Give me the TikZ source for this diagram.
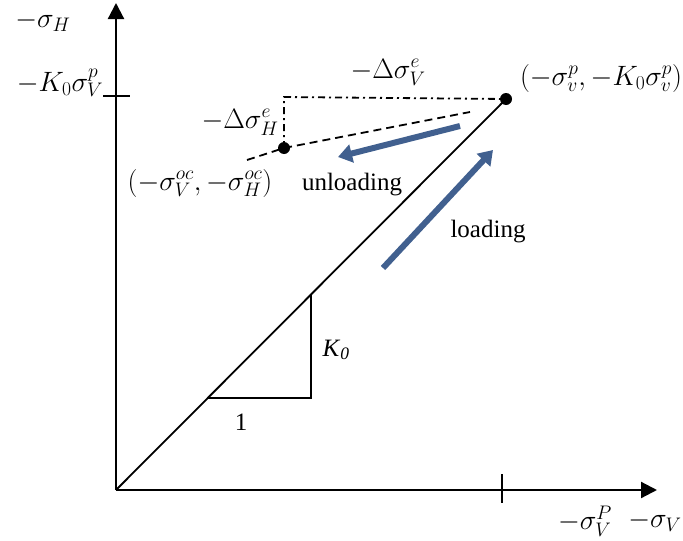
\RequirePackage{fix-cm}
\documentclass[tikz,border=0pt]{standalone}
\usepackage{fontspec}
\setmainfont{Liberation Serif}
\usetikzlibrary{arrows.meta}
\definecolor{arrowblue}{RGB}{65,96,143}
\tikzset{
  axis/.style={line width=2.2pt,-{Triangle[length=16pt,width=16pt]}},
  tick/.style={line width=2pt},
  thinline/.style={line width=1.8pt},
  dashdot/.style={line width=1.8pt,dash pattern=on 7pt off 4pt on 2pt off 4pt},
  dashline/.style={line width=1.8pt,dash pattern=on 8pt off 5pt},
  bluearrow/.style={arrowblue,line width=6pt,-{Triangle[length=14pt,width=18pt]}},
  dotnode/.style={circle,fill=black,inner sep=0pt,minimum size=12pt},
  lbl/.style={inner sep=0pt,font=\fontsize{25}{30}\selectfont},
  mlbl/.style={inner sep=0pt,font=\fontsize{28}{34}\selectfont}
}
\begin{document}
\begin{tikzpicture}[x=1pt,y=-1pt]
\useasboundingbox (0,0) rectangle (683,541);
% coordinates
\coordinate (O) at (116,490);
\coordinate (Ytip) at (116,3);
\coordinate (Xtip) at (657,490);
\coordinate (YtickL) at (103,96);
\coordinate (YtickR) at (130,96);
\coordinate (XtickT) at (502,474);
\coordinate (XtickB) at (502,503);
\node[dotnode] (P) at (506,99) {};
\node[dotnode] (Q) at (284,148) {};
\coordinate (C) at (284,97);
\coordinate (Dstart) at (247,160);
\coordinate (Dend) at (470,112);
\coordinate (T1) at (207,398);
\coordinate (T2) at (311,398);
\coordinate (T3) at (311,295);
\coordinate (U1) at (460,126);
\coordinate (U2) at (338,157);
\coordinate (L1) at (383,268);
\coordinate (L2) at (493,150);
% axes
\draw[axis] (O) -- (Ytip);
\draw[axis] (O) -- (Xtip);
\draw[tick] (YtickL) -- (YtickR);
\draw[tick] (XtickT) -- (XtickB);
% loading line
\draw[thinline] (O) -- (P.center);
% slope triangle
\draw[thinline] (T1) -- (T2) -- (T3);
% dash-dot lines
\draw[dashdot] (Q.center) -- (C) -- (P.center);
% dashed unloading line
\draw[dashline] (Dstart) -- (Q.center) -- (Dend);
% blue arrows
\draw[bluearrow] (U1) -- (U2);
\draw[bluearrow] (L1) -- (L2);
% labels
\node[mlbl] (lsh) at (43,21) {$-\sigma_H$};
\node[mlbl] (lk0) at (60,83) {$-K_0\sigma_V^p$};
\node[mlbl] (ldh) at (240,122) {$-\Delta\sigma_H^e$};
\node[mlbl] (ldv) at (388,72) {$-\Delta\sigma_V^e$};
\node[mlbl] (lP) at (601,78) {$\bigl(-\sigma_v^p,-K_0\sigma_v^p\bigr)$};
\node[mlbl] (lQ) at (200,183) {$\bigl(-\sigma_V^{oc},-\sigma_H^{oc}\bigr)$};
\node[lbl] (lun) at (352,185) {unloading};
\node[lbl] (llo) at (488,232) {loading};
\node[lbl] (lK) at (336,350) {\textit{K}\textsubscript{\textit{0}}};
\node[lbl] (l1) at (241,422) {1};
\node[mlbl] (lsvp) at (585,521) {$-\sigma_V^P$};
\node[mlbl] (lsv) at (655,521) {$-\sigma_V$};
\end{tikzpicture}
\end{document}
